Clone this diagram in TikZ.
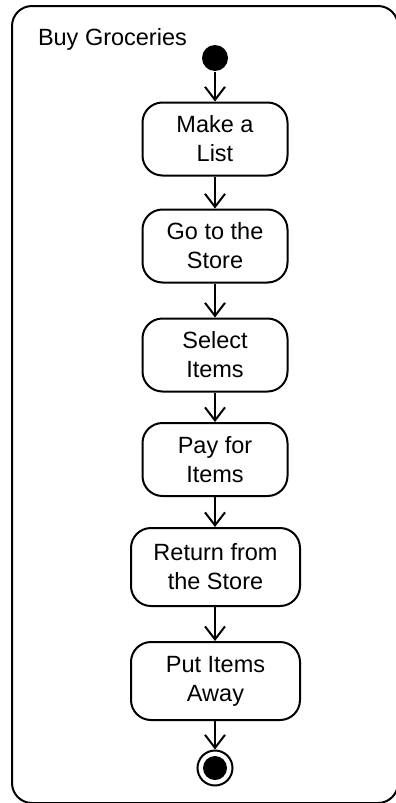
\documentclass[tikz,border=0pt]{standalone}
\usepackage{fontspec}
\setmainfont{Liberation Sans}
\usetikzlibrary{arrows.meta}
\begin{document}
\begin{tikzpicture}[x=1pt,y=-1pt,
  line width=2pt,
  every node/.style={font=\fontsize{23.5}{29}\selectfont},
  action/.style={draw, rounded corners=20pt, align=center, inner sep=0pt,
    minimum width=145pt, minimum height=73pt},
  flow/.style={-{Straight Barb[length=13pt,width=20pt,line width=2pt]}},
  startnode/.style={circle, fill=black, inner sep=0pt, minimum size=26pt},
  endring/.style={circle, draw, line width=2pt, inner sep=0pt, minimum size=35pt}
]
\useasboundingbox (0,0) rectangle (396,803);
\begin{scope}
  \clip (0,0) rectangle (396,803);
  \draw[rounded corners=20pt] (12,6) rectangle (398,803);
\end{scope}

\node[anchor=base west, inner sep=0pt] (title) at (37,45) {Buy Groceries};

\node[startnode] (start) at (215,58) {};
\node[action] (list)   at (215,139)   {Make a\\List};
\node[action] (go)     at (215,246)   {Go to the\\Store};
\node[action] (select) at (215,355)   {Select\\Items};
\node[action] (pay)    at (215,459.5) {Pay for\\Items};
\node[action, minimum width=169pt, minimum height=78pt] (ret) at (215.5,567) {Return from\\the Store};
\node[action, minimum width=169pt, minimum height=78pt] (away) at (215.5,681) {Put Items\\Away};
\node[endring] (finish) at (215,768) {};
\fill (finish.center) circle (12pt);

\draw[flow] (start) -- (list);
\draw[flow] (list) -- (go);
\draw[flow] (go) -- (select);
\draw[flow] (select) -- (pay);
\draw[flow] (pay.south) -- (pay.south |- ret.north);
\draw[flow] (ret.south -| pay.south) -- (pay.south |- away.north);
\draw[flow] (away.south -| pay.south) -- (finish);
\end{tikzpicture}
\end{document}
